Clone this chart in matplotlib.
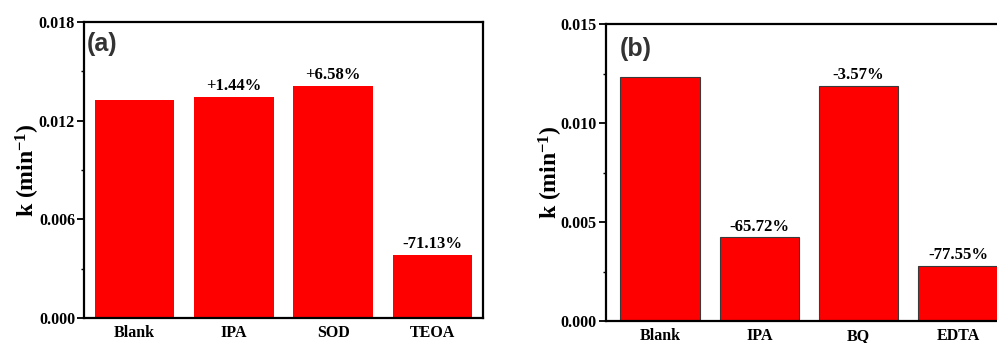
import matplotlib
matplotlib.use("Agg")
import matplotlib.pyplot as plt
from matplotlib.ticker import MultipleLocator, FormatStrFormatter

# Rate constants for the scavenger experiments
cats_a = ["Blank", "IPA", "SOD", "TEOA"]
k_a = [0.01326, 0.01345, 0.01413, 0.00383]
notes_a = ["", "+1.44%", "+6.58%", "-71.13%"]

cats_b = ["Blank", "IPA", "BQ", "EDTA"]
k_b = [0.01234, 0.00423, 0.01190, 0.00277]
notes_b = ["", "-65.72%", "-3.57%", "-77.55%"]

serif = ["Liberation Serif", "DejaVu Serif"]
plt.rcParams["font.family"] = serif
plt.rcParams["mathtext.fontset"] = "custom"
plt.rcParams["mathtext.rm"] = "Liberation Serif:bold"
plt.rcParams["mathtext.it"] = "Liberation Serif:bold"
plt.rcParams["mathtext.bf"] = "Liberation Serif:bold"

fig = plt.figure(figsize=(9.97, 3.43), dpi=100)


def panel(rect, cats, vals, notes, ymax, step, tag, tag_xy, xlim, label_x, edge):
    ax = fig.add_axes(rect)
    x = list(range(len(cats)))
    if edge:
        ax.bar(x, vals, width=0.8, color="#ff0000", edgecolor="#3a3a3a", linewidth=0.8)
    else:
        ax.bar(x, vals, width=0.8, color="#ff0000", linewidth=0)
    for xi, v, n in zip(x, vals, notes):
        if n:
            ax.annotate(n, (xi, v), xytext=(0, 2), textcoords="offset points",
                        ha="center", va="bottom", fontsize=12, fontweight="bold")
    ax.set_xlim(*xlim)
    ax.set_ylim(0, ymax)
    ax.yaxis.set_major_locator(MultipleLocator(step))
    ax.yaxis.set_minor_locator(MultipleLocator(step / 2))
    ax.yaxis.set_major_formatter(FormatStrFormatter("%.3f"))
    ax.set_xticks(x)
    ax.set_xticklabels(cats)
    ax.tick_params(axis="x", length=0, pad=5, labelsize=11.5)
    ax.tick_params(axis="y", which="major", direction="out", length=5, width=1.3,
                   pad=1.5, labelsize=11.5)
    ax.tick_params(axis="y", which="minor", direction="out", length=2, width=1.0)
    for lab in ax.get_xticklabels() + ax.get_yticklabels():
        lab.set_fontweight("bold")
    for s in ax.spines.values():
        s.set_linewidth(1.6)
        s.set_color("black")
    ax.set_ylabel("k (min$^{-1}$)", fontsize=17, fontweight="bold")
    ax.yaxis.set_label_coords(label_x, 0.5)
    ax.text(tag_xy[0], tag_xy[1], tag, transform=ax.transAxes, fontsize=18,
            fontweight="bold", color="#333333", family=["Liberation Sans", "DejaVu Sans"],
            ha="left", va="center")
    return ax


panel([0.0843, 0.0729, 0.4002, 0.863], cats_a, k_a, notes_a, 0.018, 0.006,
      "(a)", (0.008, 0.925), (-0.51, 3.51), -0.105, False)
panel([0.6078, 0.0641, 0.4072, 0.865], cats_b, k_b, notes_b, 0.015, 0.005,
      "(b)", (0.035, 0.918), (-0.544, 3.544), -0.10, True)

fig.savefig("out.png", dpi=100)
